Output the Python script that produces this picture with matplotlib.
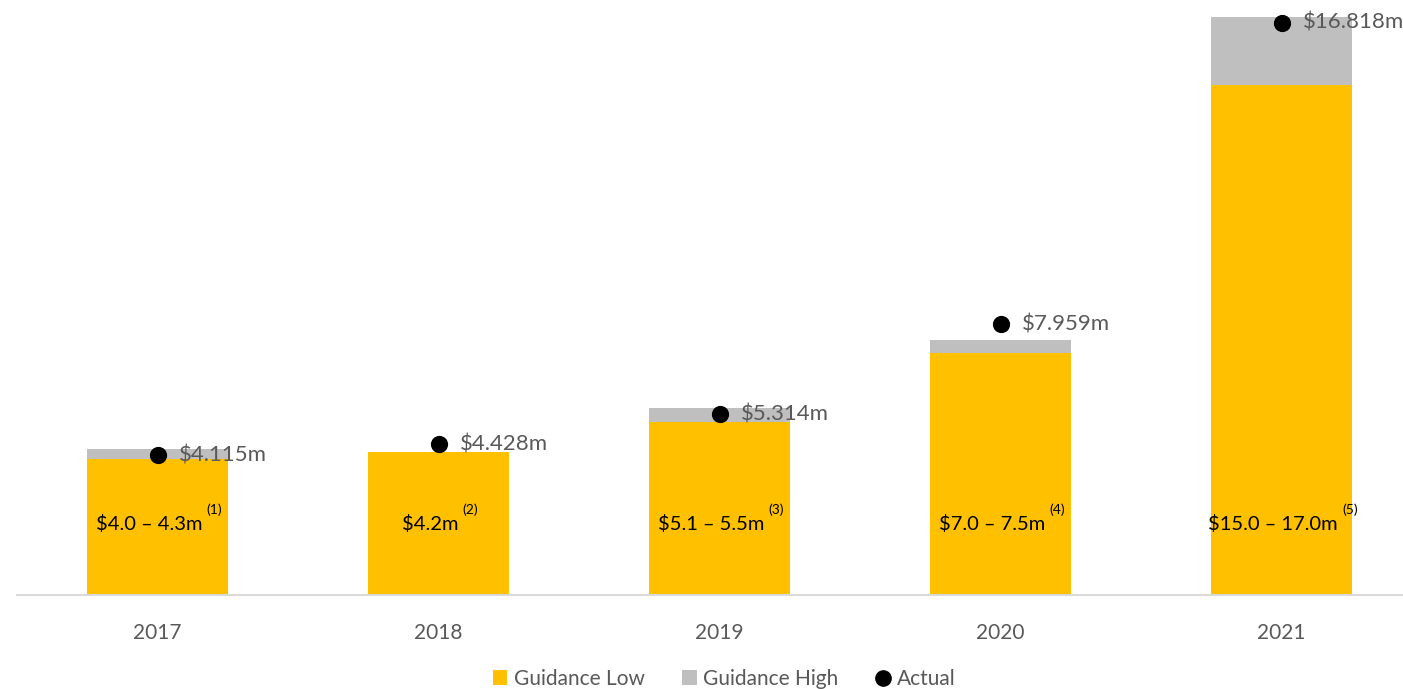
import matplotlib
matplotlib.use('Agg')
import matplotlib.pyplot as plt
from matplotlib.patches import Patch
from matplotlib.lines import Line2D

plt.rcParams['font.family'] = ['Lato', 'DejaVu Sans']

years = ['2017', '2018', '2019', '2020', '2021']
guidance_low = [4.0, 4.2, 5.1, 7.1, 15.0]
guidance_high = [4.3, 4.2, 5.5, 7.5, 17.0]
actual = [4.115, 4.428, 5.314, 7.959, 16.818]
range_labels = ['$4.0 – 4.3m', '$4.2m', '$5.1 – 5.5m', '$7.0 – 7.5m', '$15.0 – 17.0m']
notes = ['(1)', '(2)', '(3)', '(4)', '(5)']
actual_labels = ['$4.115m', '$4.428m', '$5.314m', '$7.959m', '$16.818m']

YELLOW = '#FFC000'
GREY = '#BFBFBF'
TXT = '#595959'

fig = plt.figure(figsize=(14.03, 6.89), dpi=100)
ax = fig.add_axes([17 / 1403, 94 / 689, 1405 / 1403, 595 / 689])

x = list(range(len(years)))
extra = [h - l for h, l in zip(guidance_high, guidance_low)]
ax.bar(x, guidance_low, width=0.5, color=YELLOW, zorder=2)
ax.bar(x, extra, width=0.5, bottom=guidance_low, color=GREY, zorder=2)
ax.scatter(x, actual, s=130, color='black', zorder=3)

for i in x:
    ax.text(i + 0.075, actual[i], actual_labels[i], fontsize=16, color=TXT,
            va='center', ha='left', zorder=4)
    t = ax.text(i - 0.03, 2.1, range_labels[i], fontsize=14.5, color='black',
                ha='center', va='center', zorder=4)
    ax.annotate(notes[i], xy=(1, 1), xycoords=t, xytext=(3, -1),
                textcoords='offset points', fontsize=10, color='black',
                ha='left', va='bottom', zorder=4)

ax.set_xlim(-0.5, 4.5)
ax.set_ylim(0, 17.49)
ax.set_xticks(x)
ax.set_xticklabels(years, fontsize=15, color=TXT)
ax.tick_params(axis='x', length=0, pad=20)
ax.set_yticks([])
for side in ['top', 'right', 'left']:
    ax.spines[side].set_visible(False)
ax.spines['bottom'].set_color('#D9D9D9')
ax.spines['bottom'].set_linewidth(1.5)

handles = [Patch(facecolor=YELLOW, edgecolor='none', label='Guidance Low'),
           Patch(facecolor=GREY, edgecolor='none', label='Guidance High'),
           Line2D([], [], marker='o', linestyle='none', color='black',
                  markersize=11, label='Actual')]
fig.legend(handles=handles, loc='center', bbox_to_anchor=(724 / 1403, 10 / 689),
           ncol=3, frameon=False, fontsize=15, labelcolor=TXT,
           handlelength=0.7, handleheight=0.7, handletextpad=0.3,
           columnspacing=1.8)

fig.savefig('out.png', dpi=100)
